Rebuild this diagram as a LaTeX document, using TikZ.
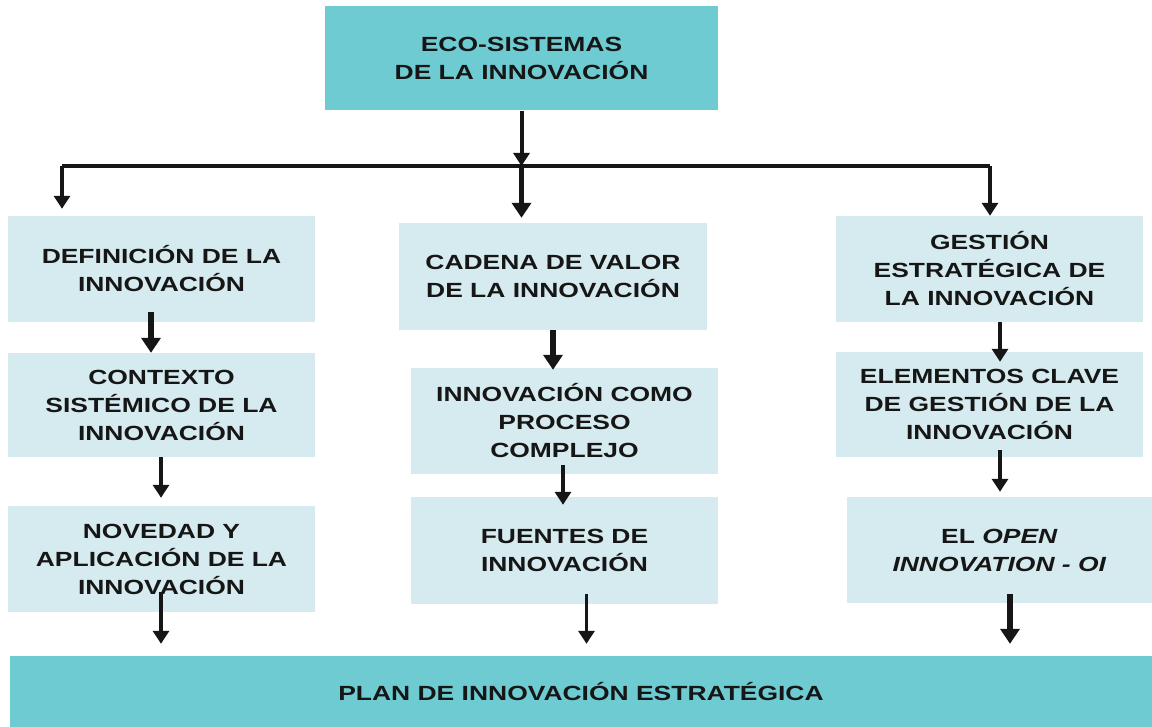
\documentclass[tikz,border=0pt]{standalone}
\usepackage{fontspec}
\newfontfamily\boxfont{Liberation Sans}[FakeStretch=1.29]
\usetikzlibrary{arrows.meta}
\definecolor{tealc}{RGB}{111,203,210}
\definecolor{lightc}{RGB}{214,235,239}
\definecolor{inkc}{RGB}{22,22,22}
\tikzset{
  boxbase/.style={rectangle, inner sep=0pt, align=center, text=inkc,
    font=\boxfont\bfseries\fontsize{20.5}{28}\selectfont},
  lightbox/.style={boxbase, fill=lightc},
  tealbox/.style={boxbase, fill=tealc},
  thinarr/.style={draw=inkc, line width=3.5pt, -{Triangle[width=16pt,length=13pt]}},
  thickarr/.style={draw=inkc, line width=6.5pt, -{Triangle[width=19pt,length=15pt]}},
  plainline/.style={draw=inkc, line width=3.5pt}
}
\begin{document}
\begin{tikzpicture}[x=1pt,y=-1pt]
\useasboundingbox (0,0) rectangle (1152,727);
% boxes
\node[tealbox, minimum width=393pt, minimum height=104pt] (top) at (521.5,58.5) {ECO-SISTEMAS\\DE LA INNOVACIÓN};
\node[lightbox, minimum width=307pt, minimum height=106pt] (L1) at (161.5,269) {DEFINICIÓN DE LA\\INNOVACIÓN};
\node[lightbox, minimum width=307pt, minimum height=104pt] (L2) at (161.5,405) {CONTEXTO\\SISTÉMICO DE LA\\INNOVACIÓN};
\node[lightbox, minimum width=307pt, minimum height=106pt] (L3) at (161.5,559) {NOVEDAD Y\\APLICACIÓN DE LA\\INNOVACIÓN};
\node[lightbox, minimum width=308pt, minimum height=107pt] (M1) at (553,276.5) {CADENA DE VALOR\\DE LA INNOVACIÓN};
\node[lightbox, minimum width=307pt, minimum height=106pt] (M2) at (564.5,421) {INNOVACIÓN COMO\\PROCESO\\COMPLEJO};
\node[lightbox, minimum width=307pt, minimum height=107pt] (M3) at (564.5,550.5) {FUENTES DE\\INNOVACIÓN};
\node[lightbox, minimum width=307pt, minimum height=106pt] (R1) at (989.5,269) {GESTIÓN\\ESTRATÉGICA DE\\LA INNOVACIÓN};
\node[lightbox, minimum width=307pt, minimum height=105pt] (R2) at (989.5,404.5) {ELEMENTOS CLAVE\\DE GESTIÓN DE LA\\INNOVACIÓN};
\node[lightbox, minimum width=305pt, minimum height=106pt] (R3) at (999.5,550) {EL \textit{OPEN}\\\textit{INNOVATION - OI}};
\node[tealbox, minimum width=1142pt, minimum height=71pt] (bot) at (581,691.5) {PLAN DE INNOVACIÓN ESTRATÉGICA};
% distribution line
\coordinate (hub) at (521.5,166);
\coordinate (lc) at (62,166);
\coordinate (rc) at (990,166);
\draw[plainline] (lc) -- (rc);
\draw[draw=inkc, line width=4pt, -{Triangle[width=16pt,length=13pt]}] (top.south) -- (hub);
\draw[thinarr, shorten >=7pt] (lc) -- (lc |- L1.north);
\draw[thinarr] (rc) -- (rc |- R1.north);
\draw[thickarr, line width=5.5pt, shorten >=5pt] (hub) -- (hub |- M1.north);
% left column
\draw[thickarr] ([xshift=-10.5pt,yshift=10pt]L1.south) -- ([xshift=-10.5pt]L2.north);
\draw[thinarr] ([xshift=-0.5pt]L2.south) -- ([xshift=-0.5pt,yshift=8pt]L3.north);
\draw[thinarr] ([xshift=-0.5pt,yshift=20pt]L3.south) -- ([xshift=-0.5pt,yshift=12pt]L3.south |- bot.north);
% middle column
\draw[thickarr, line width=6pt] (M1.south) -- ([yshift=-2pt]M1.south |- M2.north);
\draw[thinarr] ([xshift=-1.5pt,yshift=9pt]M2.south) -- ([xshift=-1.5pt,yshift=-8pt]M3.north);
\draw[thinarr] ([xshift=22pt,yshift=10pt]M3.south) -- ([xshift=22pt,yshift=12pt]M3.south |- bot.north);
% right column
\draw[thinarr] ([xshift=10.5pt]R1.south) -- ([xshift=10.5pt,yshift=-10pt]R1.south |- R2.north);
\draw[thinarr] ([xshift=10.5pt,yshift=7pt]R2.south) -- ([xshift=10.5pt,yshift=5pt]R2.south |- R3.north);
\draw[thickarr] ([xshift=10.5pt,yshift=9pt]R3.south) -- ([xshift=10.5pt,yshift=12pt]R3.south |- bot.north);
\end{tikzpicture}
\end{document}
